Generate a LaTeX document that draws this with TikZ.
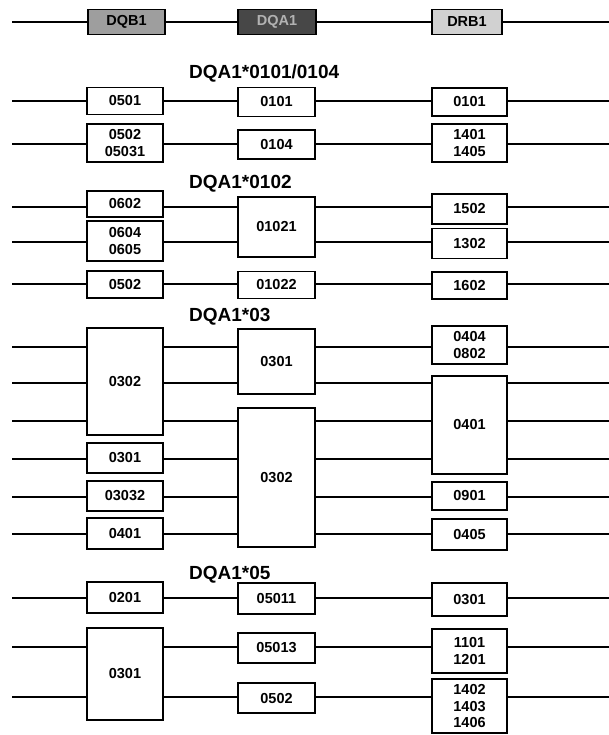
\documentclass[tikz,border=0pt]{standalone}
\usepackage{fontspec}
\setmainfont{Liberation Sans}
\begin{document}
\begin{tikzpicture}[x=1pt,y=-1pt,
  conn/.style={line width=1.1pt},
  hconn/.style={line width=2.2pt},
  box/.style={draw, line width=1.1pt, inner sep=0pt, align=center, fill=white,
    font=\bfseries\fontsize{14.5}{16.5}\selectfont},
  lbox/.style={box, minimum width=76pt},
  mbox/.style={box, minimum width=77pt},
  rbox/.style={box, minimum width=75pt},
  hbox/.style={draw, line width=1.1pt, inner sep=0pt, minimum height=25pt,
    font=\bfseries\fontsize{14.5}{16.5}\selectfont},
  title/.style={anchor=west, inner sep=0pt, font=\bfseries\fontsize{19}{22}\selectfont}
]
\useasboundingbox (0,0) rectangle (609,735);
\newcommand\hrow[4]{\draw[conn] (s#1) -- (s#1 -| #2.west) (s#1 -| #2.east) -- (s#1 -| #3.west) (s#1 -| #3.east) -- (s#1 -| #4.west) (s#1 -| #4.east) -- (e#1);}
\newcommand\rowpts[2]{\coordinate (s#1) at (12,#2); \coordinate (e#1) at (609,#2);}

% header
\node[hbox, minimum width=77pt, fill=black!38] (hq) at (126.5,22) {DQB1};
\node[hbox, minimum width=78pt, fill=black!72, text=black!30] (ha) at (277,22) {DQA1};
\node[hbox, minimum width=70pt, fill=black!18] (hr) at (467,22) {DRB1};
\coordinate (sH) at (12,22); \coordinate (eH) at (609,22);
\draw[hconn] (sH) -- (sH -| hq.west) (sH -| hq.east) -- (sH -| ha.west) (sH -| ha.east) -- (sH -| hr.west) (sH -| hr.east) -- (eH);

% section A
\node[title] (tA) at (189,73) {DQA1*0101/0104};
\node[lbox, minimum height=27pt] (LA1) at (125,101) {0501};
\node[mbox, minimum height=29pt] (MA1) at (276.5,102) {0101};
\node[rbox, minimum height=28pt] (RA1) at (469.5,102) {0101};
\node[lbox, minimum height=38pt] (LA2) at (125,143) {0502\\05031};
\node[mbox, minimum height=29pt] (MA2) at (276.5,144.5) {0104};
\node[rbox, minimum height=38pt] (RA2) at (469.5,143) {1401\\1405};
\rowpts{A1}{101} \hrow{A1}{LA1}{MA1}{RA1}
\rowpts{A2}{144} \hrow{A2}{LA2}{MA2}{RA2}

% section B
\node[title] (tB) at (189,184) {DQA1*0102};
\node[lbox, minimum height=26pt] (LB1) at (125,204) {0602};
\node[lbox, minimum height=40pt] (LB2) at (125,241) {0604\\0605};
\node[mbox, minimum height=60pt] (MB1) at (276.5,227) {01021};
\node[rbox, minimum height=30pt] (RB1) at (469.5,209) {1502};
\node[rbox, minimum height=30pt] (RB2) at (469.5,243.5) {1302};
\node[lbox, minimum height=27pt] (LB3) at (125,284.5) {0502};
\node[mbox, minimum height=27pt] (MB3) at (276.5,285) {01022};
\node[rbox, minimum height=27pt] (RB3) at (469.5,285.5) {1602};
\rowpts{B1}{207} \hrow{B1}{LB1}{MB1}{RB1}
\rowpts{B2}{242} \hrow{B2}{LB2}{MB1}{RB2}
\rowpts{B3}{284} \hrow{B3}{LB3}{MB3}{RB3}

% section C
\node[title] (tC) at (189,317) {DQA1*03};
\node[lbox, minimum height=107pt] (LC1) at (125,381.5) {0302};
\node[lbox, minimum height=30pt] (LC4) at (125,458) {0301};
\node[lbox, minimum height=30pt] (LC5) at (125,496) {03032};
\node[lbox, minimum height=31pt] (LC6) at (125,533.5) {0401};
\node[mbox, minimum height=65pt] (MC1) at (276.5,361.5) {0301};
\node[mbox, minimum height=139pt] (MC3) at (276.5,477.5) {0302};
\node[rbox, minimum height=38pt] (RC1) at (469.5,345) {0404\\0802};
\node[rbox, minimum height=98pt] (RC2) at (469.5,425) {0401};
\node[rbox, minimum height=28pt] (RC5) at (469.5,496) {0901};
\node[rbox, minimum height=31pt] (RC6) at (469.5,534.5) {0405};
\rowpts{C1}{347} \hrow{C1}{LC1}{MC1}{RC1}
\rowpts{C2}{383} \hrow{C2}{LC1}{MC1}{RC2}
\rowpts{C3}{421} \hrow{C3}{LC1}{MC3}{RC2}
\rowpts{C4}{459} \hrow{C4}{LC4}{MC3}{RC2}
\rowpts{C5}{497} \hrow{C5}{LC5}{MC3}{RC5}
\rowpts{C6}{534} \hrow{C6}{LC6}{MC3}{RC6}

% section D
\node[title] (tD) at (189,575) {DQA1*05};
\node[lbox, minimum height=31pt] (LD1) at (125,597.5) {0201};
\node[lbox, minimum height=92pt] (LD2) at (125,674) {0301};
\node[mbox, minimum height=31pt] (MD1) at (276.5,598.5) {05011};
\node[mbox, minimum height=30pt] (MD2) at (276.5,648) {05013};
\node[mbox, minimum height=30pt] (MD3) at (276.5,698) {0502};
\node[rbox, minimum height=33pt] (RD1) at (469.5,599.5) {0301};
\node[rbox, minimum height=44pt] (RD2) at (469.5,651) {1101\\1201};
\node[rbox, minimum height=54pt] (RD3) at (469.5,706) {1402\\1403\\1406};
\rowpts{D1}{598} \hrow{D1}{LD1}{MD1}{RD1}
\rowpts{D2}{647} \hrow{D2}{LD2}{MD2}{RD2}
\rowpts{D3}{697} \hrow{D3}{LD2}{MD3}{RD3}
\end{tikzpicture}
\end{document}
